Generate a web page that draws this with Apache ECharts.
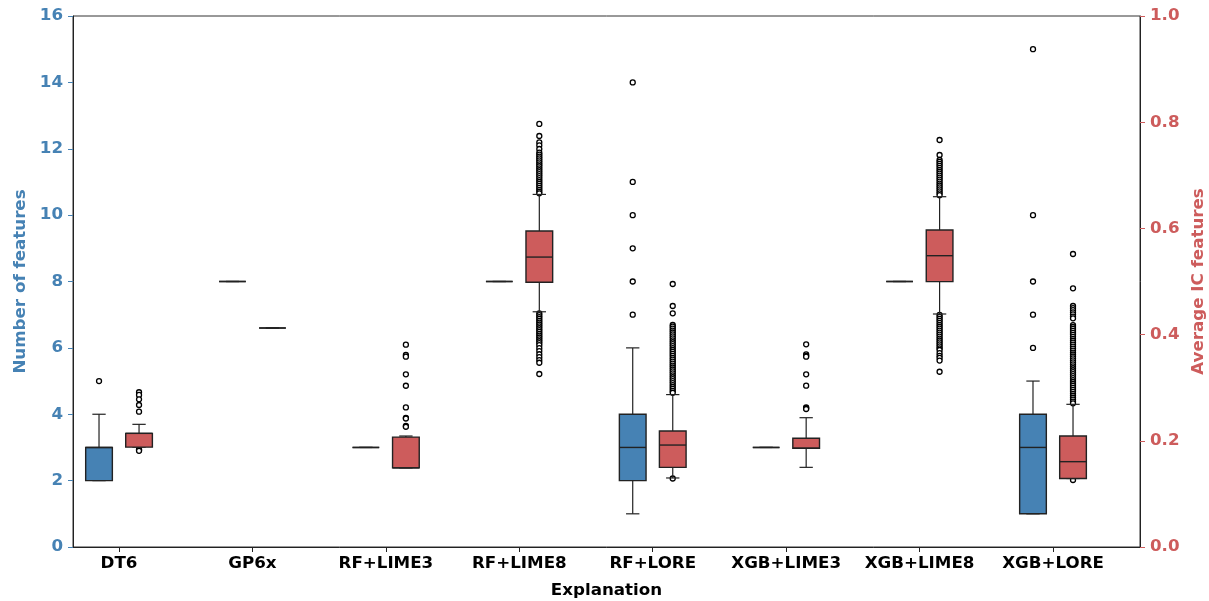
<!DOCTYPE html>
<html>
<head>
<meta charset="utf-8">
<script src="https://cdn.jsdelivr.net/npm/echarts@6/dist/echarts.min.js"></script>
<style>html,body{margin:0;padding:0;background:#fff}#c{width:1209px;height:601px}</style>
</head>
<body>
<div id="c"></div>
<script>
// ---- data ----
const categories = ['DT6','GP6x','RF+LIME3','RF+LIME8','RF+LORE','XGB+LIME3','XGB+LIME8','XGB+LORE'];

// Number of features (left axis): [min, q1, median, q3, max]
const featBoxes = [
  [2, 2, 3, 3, 4],
  [8, 8, 8, 8, 8],
  [3, 3, 3, 3, 3],
  [8, 8, 8, 8, 8],
  [1, 2, 3, 4, 6],
  [3, 3, 3, 3, 3],
  [8, 8, 8, 8, 8],
  [1, 1, 3, 4, 5]
];
const featOutliers = [
  [5],
  [],
  [],
  [],
  [7, 8, 9, 10, 11, 14],
  [],
  [],
  [6, 7, 8, 10, 15]
];

// Average IC features (right axis): [min, q1, median, q3, max]
const icBoxes = [
  [0.188, 0.188, 0.214, 0.214, 0.231],
  [0.4124, 0.4124, 0.4124, 0.4124, 0.4124],
  [0.149, 0.149, 0.149, 0.207, 0.209],
  [0.443, 0.4985, 0.546, 0.595, 0.664],
  [0.130, 0.150, 0.192, 0.2185, 0.2870],
  [0.150, 0.186, 0.186, 0.2047, 0.2435],
  [0.4388, 0.4997, 0.5486, 0.597, 0.6597],
  [0.129, 0.129, 0.1607, 0.209, 0.2687]
];
const icOutliers = [
  [0.2914, 0.2863, 0.2781, 0.2674, 0.2548, 0.1840, 0.1825, 0.1812],
  [],
  [0.3810, 0.3616, 0.3585, 0.3252, 0.3037, 0.2629, 0.2433, 0.2420, 0.2279, 0.2265],
  [0.7967, 0.7740, 0.7621, 0.7564, 0.7495, 0.7427, 0.7390, 0.7352, 0.7318, 0.7280, 0.7243, 0.7205, 0.7170, 0.7131, 0.7095, 0.7058, 0.7021, 0.6985, 0.6948, 0.6910, 0.6874, 0.6837, 0.6800, 0.6763, 0.6727, 0.6690, 0.6660,
   0.4400, 0.4365, 0.4330, 0.4296, 0.4260, 0.4225, 0.4190, 0.4155, 0.4120, 0.4086, 0.4050, 0.4015, 0.3980, 0.3945, 0.3910, 0.3875, 0.3840, 0.3800, 0.3745, 0.3690, 0.3630, 0.3575, 0.3520, 0.3470, 0.3258],
  [0.4953, 0.4539, 0.4401, 0.4181, 0.4150, 0.4112, 0.4075, 0.4040, 0.4003, 0.3966, 0.3930, 0.3893, 0.3856, 0.3820, 0.3783, 0.3746, 0.3710, 0.3673, 0.3636, 0.3600, 0.3563, 0.3527, 0.3490, 0.3453, 0.3417, 0.3380, 0.3343, 0.3307, 0.3270, 0.3233, 0.3197, 0.3160, 0.3123, 0.3087, 0.3050, 0.3013, 0.2977, 0.2940, 0.2905,
   0.1290],
  [0.3817, 0.3629, 0.3600, 0.3584, 0.3252, 0.3038, 0.2631, 0.2615, 0.2599],
  [0.7665, 0.7382, 0.7288, 0.7252, 0.7215, 0.7178, 0.7141, 0.7104, 0.7067, 0.7030, 0.6993, 0.6956, 0.6919, 0.6882, 0.6845, 0.6808, 0.6771, 0.6734, 0.6697, 0.6660, 0.6625,
   0.4370, 0.4333, 0.4296, 0.4259, 0.4222, 0.4185, 0.4148, 0.4111, 0.4074, 0.4037, 0.4000, 0.3963, 0.3926, 0.3889, 0.3852, 0.3815, 0.3778, 0.3741, 0.3710, 0.3650, 0.3600, 0.3560, 0.3510, 0.3300],
  [0.5518, 0.4871, 0.4539, 0.4500, 0.4460, 0.4420, 0.4380, 0.4340, 0.4307, 0.4180, 0.4143, 0.4106, 0.4069, 0.4032, 0.3995, 0.3958, 0.3921, 0.3884, 0.3847, 0.3810, 0.3773, 0.3736, 0.3699, 0.3662, 0.3625, 0.3588, 0.3551, 0.3514, 0.3477, 0.3440, 0.3403, 0.3366, 0.3329, 0.3292, 0.3255, 0.3218, 0.3181, 0.3144, 0.3107, 0.3070, 0.3033, 0.2996, 0.2959, 0.2922, 0.2885, 0.2848, 0.2811, 0.2774, 0.2737, 0.2705,
   0.1262]
];

const catPositions = categories.map((_, i) => i);
const xRange = { min: -0.345, max: 7.652 };
const leftTicks = { min: 0, max: 16, interval: 2 };
const rightTicks = { min: 0, max: 1, interval: 0.2 };

// ---- styles ----
const BLUE = '#4682B4';
const RED = '#CD5C5C';
const FONT = 'DejaVu Sans';
const FS = 16.7;
const OFFSET_FRAC = 0.15;

function boxRenderer(side, fill) {
  return function (params, api) {
    const c = api.value(0);
    const unit = api.size([1, 0])[0];
    const off = side * unit * OFFSET_FRAC;
    const bw = unit * 0.2;
    const cw = bw * 0.5;
    const pMin = api.coord([c, api.value(1)]);
    const pQ1 = api.coord([c, api.value(2)]);
    const pMed = api.coord([c, api.value(3)]);
    const pQ3 = api.coord([c, api.value(4)]);
    const pMax = api.coord([c, api.value(5)]);
    const x = pMin[0] + off;
    const ls = { stroke: '#222', lineWidth: 1.2 };
    return {
      type: 'group',
      children: [
        { type: 'line', shape: { x1: x, y1: pQ3[1], x2: x, y2: pMax[1] }, style: ls },
        { type: 'line', shape: { x1: x, y1: pQ1[1], x2: x, y2: pMin[1] }, style: ls },
        { type: 'line', shape: { x1: x - cw / 2, y1: pMax[1], x2: x + cw / 2, y2: pMax[1] }, style: ls },
        { type: 'line', shape: { x1: x - cw / 2, y1: pMin[1], x2: x + cw / 2, y2: pMin[1] }, style: ls },
        { type: 'rect', shape: { x: x - bw / 2, y: pQ3[1], width: bw, height: pQ1[1] - pQ3[1] },
          style: { fill: fill, stroke: '#222', lineWidth: 1.4 } },
        { type: 'line', shape: { x1: x - bw / 2, y1: pMed[1], x2: x + bw / 2, y2: pMed[1] },
          style: { stroke: '#222', lineWidth: 1.4 } }
      ]
    };
  };
}

const featBoxData = featBoxes.map((b, i) => [catPositions[i]].concat(b));
const icBoxData = icBoxes.map((b, i) => [catPositions[i]].concat(b));
const featOutData = [];
featOutliers.forEach((arr, i) => arr.forEach(v => featOutData.push([catPositions[i], v])));
const icOutData = [];
icOutliers.forEach((arr, i) => arr.forEach(v => icOutData.push([catPositions[i], v])));

const chart = echarts.init(document.getElementById('c'), null, { renderer: 'canvas' });
const labelStyle = { fontFamily: FONT, fontWeight: 'bold', fontSize: FS };

chart.setOption({
  animation: false,
  backgroundColor: '#fff',
  grid: { left: 73, right: 69, top: 16, bottom: 54, containLabel: false, outerBoundsMode: 'none',
          show: true, borderColor: '#333', borderWidth: 1, backgroundColor: 'transparent' },
  xAxis: {
    type: 'value',
    min: xRange.min, max: xRange.max,
    axisLine: { show: true, onZero: false, lineStyle: { color: '#222', width: 1 } },
    axisTick: { show: true, length: 5, customValues: catPositions, lineStyle: { color: '#222' } },
    axisLabel: Object.assign({ color: '#000', margin: 8, customValues: catPositions,
      formatter: v => categories[Math.round(v)] || '' }, labelStyle),
    splitLine: { show: false },
    name: 'Explanation',
    nameLocation: 'middle',
    nameGap: 35,
    nameTextStyle: Object.assign({ color: '#000' }, labelStyle)
  },
  yAxis: [
    {
      type: 'value', position: 'left',
      min: leftTicks.min, max: leftTicks.max, interval: leftTicks.interval,
      axisLine: { show: true, onZero: false, lineStyle: { color: '#222', width: 1 } },
      axisTick: { show: true, length: 5, lineStyle: { color: BLUE } },
      axisLabel: Object.assign({ color: BLUE, margin: 10 }, labelStyle),
      splitLine: { show: false },
      name: 'Number of features', nameLocation: 'middle', nameGap: 42,
      nameTextStyle: Object.assign({ color: BLUE }, labelStyle)
    },
    {
      type: 'value', position: 'right',
      min: rightTicks.min, max: rightTicks.max, interval: rightTicks.interval,
      axisLine: { show: true, onZero: false, lineStyle: { color: '#222', width: 1 } },
      axisTick: { show: true, length: 5, lineStyle: { color: RED } },
      axisLabel: Object.assign({ color: RED, margin: 10, formatter: v => v.toFixed(1) }, labelStyle),
      splitLine: { show: false },
      name: 'Average IC features', nameLocation: 'middle', nameGap: 47,
      nameTextStyle: Object.assign({ color: RED }, labelStyle)
    }
  ],
  series: [
    {
      type: 'scatter', name: 'featOut', xAxisIndex: 0, yAxisIndex: 0,
      data: featOutData, symbol: 'circle', symbolSize: 5, symbolOffset: [-20, 0],
      itemStyle: { color: '#fff', borderColor: '#000', borderWidth: 1.3, opacity: 1 },
      z: 3, silent: true
    },
    {
      type: 'scatter', name: 'icOut', xAxisIndex: 0, yAxisIndex: 1,
      data: icOutData, symbol: 'circle', symbolSize: 5, symbolOffset: [20, 0],
      itemStyle: { color: '#fff', borderColor: '#000', borderWidth: 1.3, opacity: 1 },
      z: 3, silent: true
    },
    {
      type: 'custom', name: 'featBox', xAxisIndex: 0, yAxisIndex: 0,
      data: featBoxData, encode: { x: 0, y: [1, 2, 3, 4, 5] },
      renderItem: boxRenderer(-1, BLUE), z: 4, silent: true
    },
    {
      type: 'custom', name: 'icBox', xAxisIndex: 0, yAxisIndex: 1,
      data: icBoxData, encode: { x: 0, y: [1, 2, 3, 4, 5] },
      renderItem: boxRenderer(1, RED), z: 4, silent: true
    }
  ]
});
</script>
</body>
</html>
